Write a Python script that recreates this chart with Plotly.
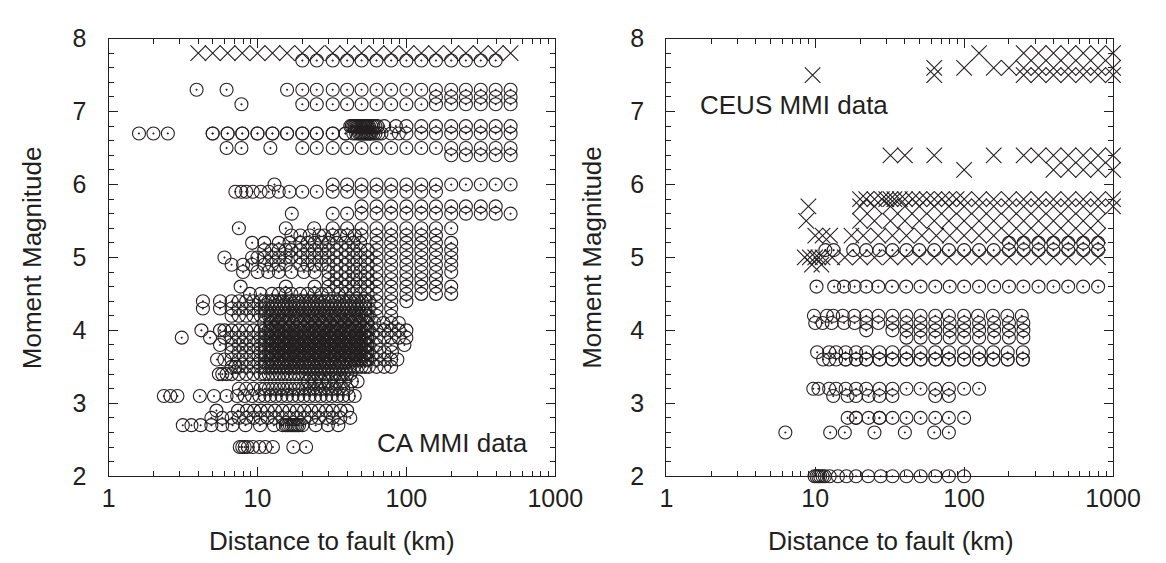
import plotly.graph_objects as go

# ---------------- data ----------------
# CA panel (left): open circles with centre dot, one list of distances (km) per magnitude row
ca_dense_km = [6.7, 7.5, 8.4, 9.4, 10.5, 11.2, 11.9, 12.6, 13.3, 14.1, 14.9, 15.8, 16.7, 17.8,
               18.8, 20, 21.1, 22.4, 23.7, 25.1, 26.6, 28.2, 29.9, 31.6, 33.5, 35.5, 37.6, 39.8,
               42, 44.7, 47.3, 50.1, 53.1, 56, 63]
# extra, in-between events of the black core (about 12-55 km)
ca_core_km = [12.2, 13.7, 15.4, 17.3, 19.4, 21.8, 24.5, 27.5, 30.8, 34.6, 38.8, 43.5, 48.7, 54.6]

ca_circle_mag = [7.7, 7.3, 7.2, 7.1, 6.8, 6.7, 6.5, 6.4, 6.0, 5.9, 5.7, 5.6, 5.4, 5.3, 5.2, 5.1,
                 5.0, 4.9, 4.8, 4.7, 4.6, 4.5, 4.4, 4.3, 4.2, 4.1, 4.0, 3.9, 3.8, 3.7, 3.6, 3.5,
                 3.4, 3.3, 3.2, 3.1, 2.9, 2.8, 2.7, 2.4]
ca_circle_km = [
    [20, 25, 32, 40, 50, 63, 79, 100, 126, 158, 200, 251, 316, 398],
    [3.9, 6.2, 15.8, 20, 25, 32, 40, 50, 63, 79, 100, 126, 158, 200, 251, 316, 398, 501],
    [158, 200, 251, 316, 398, 501],
    [7.8, 20, 25, 32, 40, 50, 63, 79, 100, 126, 158, 200, 251, 316, 398, 501],
    [42, 43, 44, 45, 46, 47, 48, 49, 50, 51, 52, 53, 54, 55, 56, 58, 60, 62, 64, 71, 85, 100,
     126, 158, 200, 251, 316, 398, 501],
    [1.6, 2.0, 2.5, 5.0, 5.0, 6.3, 6.3, 7.9, 7.9, 10, 10, 12.6, 12.6, 15.8, 15.8, 20, 20, 25, 25,
     32, 32, 39, 39, 44, 46, 48, 49, 50, 51, 52, 53, 54, 55, 56, 57, 58, 60, 62, 65, 68, 79, 89,
     100, 126, 158, 200, 251, 316, 398, 501],
    [6.2, 7.8, 12.2, 20, 25, 32, 40, 50, 63, 79, 100, 126, 158, 200, 251, 316, 398, 501],
    [200, 251, 316, 398, 501],
    [13, 32, 40, 50, 63, 79, 100, 126, 158, 200, 251, 316, 398, 501],
    [7.1, 7.8, 8.4, 9.3, 10.5, 11.9, 13.9, 16.4, 20, 25, 32, 40, 50, 63, 79, 100, 126, 158],
    [50, 63, 79, 100, 126, 158, 200, 251, 316, 398],
    [17, 32, 40, 50, 63, 79, 100, 126, 158, 200, 251, 316, 398, 501],
    [7.5, 15.5, 24, 32, 40, 50, 63, 79, 100, 126, 158, 200],
    [16.9, 19.4, 22.4, 26, 28, 32, 36, 40, 45, 50, 63, 79, 100, 126, 158],
    [9.2, 11.1, 13.9, 16.4, 19.4, 21.7, 24.2, 27, 30, 34, 39, 44, 49, 63, 79, 100, 126, 158, 200],
    [11.1, 12.5, 13.9, 15.5, 16.9, 19.4, 21.7, 24.2, 27, 30, 34, 39, 44, 49, 55, 63, 79, 100,
     126, 158, 200],
    [6.0, 9.2, 10, 11.1, 12.5, 13.9, 15.5, 16.9, 19.4, 21.7, 24.2, 27, 30, 34, 39, 44, 49, 55,
     63, 79, 100, 126, 158, 200],
    [6.7, 8.0, 9.2, 11.1, 12.5, 13.9, 15.5, 19.4, 21.7, 24.2, 27, 30, 34, 39, 44, 49, 55, 63, 79,
     100, 126, 158, 200],
    [8.0, 10, 11.8, 13.9, 16.9, 20.5, 24.2, 30, 34, 39, 44, 49, 55, 63, 79, 100, 126, 158, 200],
    [30, 34, 39, 44, 49, 55, 63, 79, 100, 126, 158],
    [7.7, 15.5, 24.2, 30, 34, 39, 44, 49, 55, 63, 79, 100, 126, 158, 200],
    [8.9, 10.5, 12.5, 13.9, 15.5, 16.9, 19.4, 21.7, 24.2, 27, 30, 35, 39, 44, 49, 55, 63, 79, 100,
     126, 158, 200],
    [4.3, 5.6] + ca_dense_km + [79, 100],
    [4.3, 5.6] + ca_dense_km + [79],
    ca_dense_km + ca_core_km + [79],
    [11.1, 12.5, 13.9, 15.5, 17.4, 19.4, 21.7, 24.2, 27.1, 30.3, 34, 38, 43, 48, 54, 61, 70, 79, 89]
    + ca_core_km,
    [4.2, 5.6, 6.0] + ca_dense_km + ca_core_km + [71, 79, 89, 100],
    [3.1, 4.8, 6.0] + ca_dense_km + ca_core_km + [71, 79, 89, 100],
    [5.6] + ca_dense_km + ca_core_km + [79, 97],
    ca_dense_km + ca_core_km + [71, 80],
    [5.35, 6.0] + ca_dense_km + ca_core_km + [71, 79, 87],
    [7.1] + ca_dense_km + [71, 79],
    [5.5, 5.8, 6.2, 6.7, 7.5, 8.4, 9.4, 10.5, 11.2, 11.9, 12.6, 13.3, 14.1, 14.9, 15.8, 16.7, 17.8,
     18.8, 20, 21.1, 22.4, 23.7, 25.1, 26.6, 28.2, 29.9, 31.6, 33.5, 35.5, 37.6, 39.8, 42],
    [21.7, 24.2, 27, 30, 34, 38, 43, 47],
    [7.5, 8.4, 9.4, 10.5, 11.2, 11.9, 12.6, 13.3, 14.1, 14.9, 15.8, 16.7, 17.8, 18.8, 20, 21.1,
     22.4, 23.7, 25.1, 26.6, 28.2, 29.9, 31.6, 33.5, 35.5, 37.6, 40],
    [2.35, 2.6, 2.9, 4.1, 5.1, 6.2, 7.3, 8.2, 9.2, 10.3, 11.2, 12.2, 13.3, 14.5, 15.8, 17.2, 18.8,
     20.5, 22.4, 24.4, 26.6, 29, 31.6, 34.5, 37.6, 41, 45],
    [5.3, 7.4, 8.5, 9.5, 10.5, 11.7, 13.1, 14.7, 16.4, 18.4, 20.6, 23, 25.8, 28.9, 32, 36, 40],
    [4.9, 5.8, 6.7, 7.5, 8.4, 9.4, 10.5, 11.7, 13.1, 14.7, 16.4, 18.4, 20.6, 23, 25.8, 28.9, 32,
     36, 42],
    [3.15, 3.6, 4.15, 4.9, 5.8, 6.8, 8.3, 10.4, 12.9, 14.8, 15.5, 16, 16.5, 17, 17.5, 18, 18.5,
     19, 20, 24.6, 29.7, 34.9],
    [7.6, 7.9, 8.2, 8.6, 9.3, 10.3, 11.3, 12.7, 17.4, 21.2],
]

ca_cross_mag = [7.8]
ca_cross_km = [[4.0, 5.0, 6.3, 7.9, 10, 12.6, 15.8, 20, 25, 32, 40, 50, 63, 79, 100, 126, 158,
                200, 251, 316, 398, 501]]

# CEUS panel (right)
ceus_circle_mag = [5.2, 5.1, 4.6, 4.2, 4.1, 4.0, 3.9, 3.7, 3.6, 3.6, 3.2, 3.1, 2.8, 2.6, 2.0]
ceus_circle_km = [
    [200, 251, 316, 398, 501, 631, 794],
    [11.7, 13.3, 18, 22, 27, 33, 41, 50, 63, 79, 100, 126, 158, 200, 251, 316, 398, 501, 631, 794],
    [10.2, 13.4, 15.6, 18.4, 22, 26.5, 32.8, 40.8, 51, 64, 80, 100, 126, 159, 200, 250, 316, 398,
     500, 630, 794],
    [9.8, 12, 13.2, 15.3, 18.3, 22, 26.6, 33, 41, 51, 64, 79, 100, 124, 156, 195, 244],
    [10, 11.2, 12.9, 15.6, 18.4, 22, 26.5, 33, 41, 51, 64, 80, 100, 126, 159, 200, 250],
    [22, 33, 41, 51, 64, 80, 100, 126, 159, 200, 250],
    [41, 51, 64, 80, 100, 126, 159, 200, 250],
    [10.3, 12.4, 13.8, 16, 18.8, 22, 27, 33, 41, 51, 64, 79, 100, 126, 157, 196, 248],
    [11.3, 12.4, 13.8, 16, 18.8, 22, 27, 33, 41, 51, 64, 79, 100, 126, 157, 196, 248],
    [16, 18.8, 22, 27, 33, 41, 51, 64, 79, 100, 126, 157, 196, 248],
    [9.7, 10.5, 12.4, 13.8, 16, 18.8, 22, 27, 33, 41, 51, 64, 79, 100, 126],
    [13.2, 16.5, 18.8, 22.8, 27, 33, 64, 79],
    [16.5, 18.8, 18.8, 22.8, 27, 27, 33, 41, 51, 64, 79, 100],
    [6.3, 12.6, 15.8, 25, 40, 63, 79],
    [9.9, 10.2, 10.5, 10.8, 11.2, 11.6, 12.5, 14.2, 16.2, 18.8, 22.7, 27.5, 33, 41, 51, 64, 79, 100],
]

ceus_cross_mag = [7.8, 7.6, 7.5, 6.4, 6.2, 5.8, 5.7, 5.5, 5.3, 5.0, 4.9]
ceus_cross_km = [
    [126, 251, 316, 398, 501, 631, 794, 1000],
    [63, 100, 158, 200, 251, 316, 398, 501, 631, 794, 1000],
    [9.6, 63, 251, 316, 398, 501, 631, 794, 1000],
    [32, 40, 63, 158, 251, 316, 398, 501, 631, 794, 1000],
    [100, 398, 501, 631, 794, 1000],
    [20, 22, 25, 28, 30, 32, 34, 37, 40, 45, 50, 56, 63, 71, 79, 89, 100, 126, 158, 200, 251, 316,
     398, 501, 631, 794, 1000],
    [9, 20, 25, 32, 40, 50, 63, 79, 100, 126, 158, 200, 251, 316, 398, 501, 631, 794, 1000],
    [8.7, 20, 25, 32, 40, 50, 63, 79, 100, 126, 158, 200, 251, 316, 398, 501, 631, 794],
    [10, 11.2, 12.6, 17.5, 21, 26.5, 33, 41, 52, 65, 80, 100, 126, 158, 200, 251, 316, 398, 501,
     631, 794],
    [8.5, 9.2, 10, 10.5, 11.2, 13, 15.8, 20, 25, 32, 40, 50, 63, 79, 100, 126, 158, 200, 251, 316,
     398, 501, 631, 794],
    [9.5, 11],
]

x_tick_values = [1, 10, 100, 1000]
x_tick_labels = ["1", "10", "100", "1000"]
y_tick_values = [2, 3, 4, 5, 6, 7, 8]

# ---------------- figure ----------------
INK = "#231f20"
FONT = "Liberation Sans, Arial, Helvetica, sans-serif"


def flatten(mags, kms):
    xs, ys = [], []
    for m, row in zip(mags, kms):
        for d in row:
            xs.append(d)
            ys.append(m)
    return xs, ys


def circles(mags, kms, xa, ya):
    xs, ys = flatten(mags, kms)
    return go.Scatter(x=xs, y=ys, xaxis=xa, yaxis=ya, mode="markers", cliponaxis=False,
                      hoverinfo="x+y",
                      marker=dict(symbol="circle-open-dot", size=13, color=INK,
                                  line=dict(width=1.1, color=INK)))


def crosses(mags, kms, xa, ya):
    xs, ys = flatten(mags, kms)
    return go.Scatter(x=xs, y=ys, xaxis=xa, yaxis=ya, mode="markers", cliponaxis=False,
                      hoverinfo="x+y",
                      marker=dict(symbol="x-thin-open", size=15.5, color=INK,
                                  line=dict(width=1.1, color=INK)))


fig = go.Figure()
fig.add_trace(circles(ca_circle_mag, ca_circle_km, "x", "y"))
fig.add_trace(crosses(ca_cross_mag, ca_cross_km, "x", "y"))
fig.add_trace(circles(ceus_circle_mag, ceus_circle_km, "x2", "y2"))
fig.add_trace(crosses(ceus_cross_mag, ceus_cross_km, "x2", "y2"))

minor_x = [v * s for s in (1, 10, 100) for v in range(2, 10)]


def xaxis(domain, anchor):
    return dict(domain=domain, anchor=anchor, type="log", range=[0, 3],
                tickmode="array", tickvals=x_tick_values, ticktext=x_tick_labels,
                ticks="inside", ticklen=9, tickwidth=1.2, tickcolor=INK,
                minor=dict(ticks="inside", ticklen=5, tickwidth=1, tickcolor=INK,
                           tickmode="array", tickvals=minor_x, showgrid=False),
                showline=True, linewidth=1.3, linecolor=INK, mirror="ticks",
                showgrid=False, zeroline=False, ticklabelstandoff=0,
                tickfont=dict(family=FONT, size=25, color=INK))


def yaxis(domain, anchor):
    return dict(domain=domain, anchor=anchor, range=[2, 8],
                tickmode="array", tickvals=y_tick_values,
                ticks="inside", ticklen=9, tickwidth=1.2, tickcolor=INK,
                minor=dict(ticks="inside", ticklen=5, tickwidth=1, tickcolor=INK,
                           dtick=0.2, showgrid=False),
                showline=True, linewidth=1.3, linecolor=INK, mirror="ticks",
                showgrid=False, zeroline=False, ticklabelstandoff=16,
                tickfont=dict(family=FONT, size=25, color=INK))


ydom = [1 - 478 / 563, 1 - 17.5 / 563]
fig.update_layout(
    width=1166, height=563, margin=dict(l=0, r=0, t=0, b=0),
    paper_bgcolor="white", plot_bgcolor="white", showlegend=False,
    xaxis=xaxis([96.5 / 1166, 557 / 1166], "y"),
    yaxis=yaxis(ydom, "x"),
    xaxis2=xaxis([671.5 / 1166, 1132 / 1166], "y2"),
    yaxis2=yaxis(ydom, "x2"),
)

ann_font = dict(family=FONT, size=26, color=INK)
annotations = [
    dict(text="Distance to fault (km)", x=327 / 1166, y=1 - 546 / 563),
    dict(text="Distance to fault (km)", x=903 / 1166, y=1 - 546 / 563),
    dict(text="Moment Magnitude", x=17 / 1166, y=1 - 248 / 563, textangle=-90),
    dict(text="Moment Magnitude", x=595 / 1166, y=1 - 248 / 563, textangle=-90),
    dict(text="CA MMI data", x=531 / 1166, y=1 - 443 / 563, xanchor="right"),
    dict(text="CEUS MMI data", x=704 / 1166, y=1 - 87 / 563, xanchor="left"),
]
for a in annotations:
    base = dict(xref="paper", yref="paper", showarrow=False, font=ann_font,
                xanchor="center", yanchor="middle")
    base.update(a)
    fig.add_annotation(**base)

fig.write_html("out.html")
